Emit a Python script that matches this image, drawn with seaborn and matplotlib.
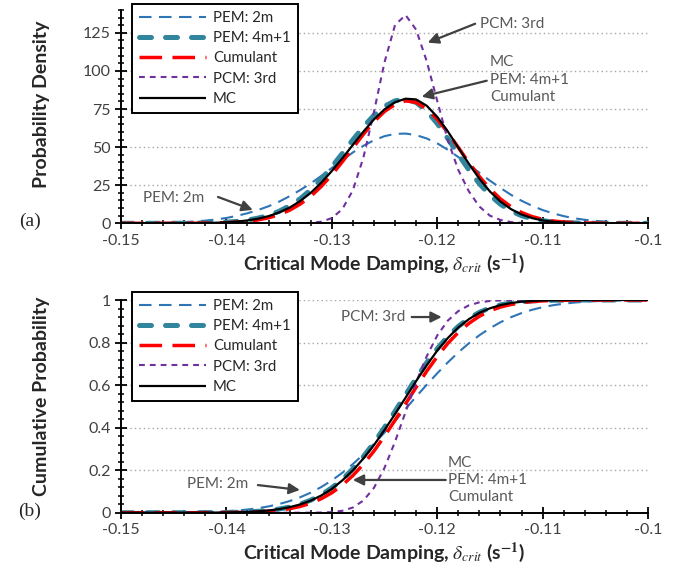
"""
Recreate the PDF / CDF comparison of critical mode damping
estimated with PEM, cumulant, PCM and Monte Carlo methods.
"""

import matplotlib

matplotlib.use("Agg")

import matplotlib.pyplot as plt
import numpy as np
import seaborn as sns
from matplotlib.ticker import FixedLocator, MultipleLocator

# sampling grid of the critical mode damping axis (-0.150 ... -0.100, step 0.001)
DAMPING = np.linspace(-0.150, -0.100, 51)

SERIES_NAMES = ["PEM: 2m", "PEM: 4m+1", "Cumulant", "PCM: 3rd", "MC"]

# probability density
PDF_PEM_2M = [
    0.04, 0.07, 0.12, 0.2, 0.32, 0.5, 0.8, 1.2, 1.75, 2.5,
    3.5, 4.9, 6.6, 8.7, 11.2, 14.2, 17.8, 21.8, 26.2, 31.1,
    36.3, 41.5, 46.5, 50.9, 54.5, 57.2, 58.7, 58.9, 57.9, 55.7,
    52.5, 48.3, 43.5, 38.4, 33.2, 28.0, 23.2, 18.7, 14.8, 11.5,
    8.7, 6.5, 4.7, 3.3, 2.3, 1.6, 1.05, 0.7, 0.44, 0.27,
    0.17,
]
PDF_PEM_4M1 = [
    0.0, 0.0, 0.0, 0.01, 0.01, 0.03, 0.06, 0.12, 0.22, 0.4,
    0.73, 1.25, 2.1, 3.4, 5.2, 7.9, 11.5, 16.1, 22.0, 29.1,
    37.1, 45.9, 54.8, 63.4, 70.9, 76.8, 80.4, 81.5, 79.3, 73.8,
    65.5, 55.7, 45.2, 35.1, 26.0, 18.5, 12.5, 8.1, 5.0, 3.0,
    1.7, 0.9, 0.47, 0.23, 0.1, 0.05, 0.02, 0.0, 0.0, 0.0,
    0.0,
]
PDF_CUMULANT = [
    0.0, 0.0, 0.0, 0.0, 0.0, 0.01, 0.03, 0.06, 0.11, 0.22,
    0.41, 0.75, 1.3, 2.2, 3.6, 5.7, 8.6, 12.6, 17.7, 24.2,
    31.8, 40.4, 49.4, 58.5, 66.7, 73.4, 78.0, 80.4, 79.4, 75.2,
    68.4, 59.6, 49.8, 39.9, 30.7, 22.7, 16.0, 10.9, 7.1, 4.4,
    2.6, 1.5, 0.84, 0.44, 0.22, 0.1, 0.05, 0.02, 0.0, 0.0,
    0.0,
]
PDF_PCM_3RD = [
    0.0, 0.0, 0.0, 0.0, 0.0, 0.0, 0.0, 0.0, 0.0, 0.0,
    0.0, 0.0, 0.0, 0.0, 0.0, 0.0, 0.01, 0.06, 0.28, 1.05,
    3.4, 9.3, 21.7, 43.2, 73.2, 105.7, 130.2, 136.7, 127.1, 106.5,
    80.4, 54.7, 35.0, 21.0, 11.0, 5.0, 2.2, 0.8, 0.3, 0.05,
    0.0, 0.0, 0.0, 0.0, 0.0, 0.0, 0.0, 0.0, 0.0, 0.0,
    0.0,
]
PDF_MC = [
    0.0, 0.0, 0.0, 0.0, 0.01, 0.03, 0.06, 0.12, 0.2, 0.38,
    0.65, 1.1, 1.9, 3.0, 4.7, 7.1, 10.3, 14.6, 20.0, 26.6,
    34.3, 42.7, 51.5, 60.2, 68.2, 74.8, 79.5, 81.8, 81.3, 77.2,
    69.9, 60.4, 49.7, 39.1, 29.3, 20.9, 14.3, 9.3, 5.8, 3.4,
    1.9, 1.0, 0.5, 0.26, 0.12, 0.05, 0.02, 0.0, 0.0, 0.0,
    0.0,
]

# cumulative probability
CDF_PEM_2M = [
    0.00005, 0.00009, 0.00016, 0.0003, 0.00046, 0.00076, 0.00123, 0.00195, 0.00304, 0.00466,
    0.007, 0.0103, 0.015, 0.0212, 0.0297, 0.0407, 0.0548, 0.0726, 0.0944, 0.1208,
    0.1518, 0.1878, 0.2288, 0.2743, 0.3238, 0.3767, 0.432, 0.4886, 0.5455, 0.6015,
    0.6554, 0.7064, 0.7537, 0.7964, 0.8343, 0.8674, 0.8956, 0.9192, 0.9386, 0.9541,
    0.9663, 0.9757, 0.9827, 0.988, 0.9918, 0.9945, 0.9964, 0.9977, 0.9985, 0.9991,
    0.9994,
]
CDF_PEM_4M1 = [
    0.0, 0.0, 0.0, 0.0, 0.0, 0.0, 0.0001, 0.0002, 0.0003, 0.0006,
    0.0012, 0.0022, 0.0039, 0.0065, 0.0108, 0.0172, 0.0267, 0.0403, 0.059, 0.084,
    0.117, 0.157, 0.206, 0.264, 0.329, 0.401, 0.477, 0.555, 0.632, 0.705,
    0.771, 0.829, 0.876, 0.914, 0.942, 0.963, 0.977, 0.986, 0.992, 0.9956,
    0.9977, 0.9988, 0.9995, 0.9998, 1.0, 1.0, 1.0, 1.0, 1.0, 1.0,
    1.0,
]
CDF_CUMULANT = [
    0.0, 0.0, 0.0, 0.0, 0.0, 0.0, 0.0, 0.0001, 0.0002, 0.0003,
    0.0007, 0.0012, 0.0023, 0.0041, 0.007, 0.0117, 0.0189, 0.0295, 0.0447, 0.0658,
    0.0937, 0.130, 0.175, 0.228, 0.290, 0.360, 0.435, 0.512, 0.590, 0.665,
    0.734, 0.796, 0.848, 0.890, 0.924, 0.949, 0.967, 0.979, 0.987, 0.993,
    0.996, 0.9978, 0.9989, 0.9995, 0.9997, 0.9999, 1.0, 1.0, 1.0, 1.0,
    1.0,
]
CDF_PCM_3RD = [
    0.0, 0.0, 0.0, 0.0, 0.0, 0.0, 0.0, 0.0, 0.0, 0.0,
    0.0, 0.0, 0.0, 0.0, 0.0, 0.0, 0.0, 0.0, 0.0002, 0.0008,
    0.0029, 0.0091, 0.0245, 0.0574, 0.117, 0.211, 0.334, 0.474, 0.613, 0.735,
    0.833, 0.903, 0.948, 0.975, 0.989, 0.9955, 0.9983, 0.9994, 0.9998, 1.0,
    1.0, 1.0, 1.0, 1.0, 1.0, 1.0, 1.0, 1.0, 1.0, 1.0,
    1.0,
]
CDF_MC = [
    0.0, 0.0, 0.0, 0.0, 0.0, 0.0, 0.0001, 0.0002, 0.0004, 0.0007,
    0.0013, 0.0022, 0.0039, 0.0065, 0.0106, 0.0169, 0.026, 0.039, 0.057, 0.081,
    0.112, 0.152, 0.199, 0.255, 0.318, 0.389, 0.464, 0.541, 0.619, 0.693,
    0.762, 0.821, 0.871, 0.910, 0.940, 0.961, 0.976, 0.986, 0.992, 0.9957,
    0.9977, 0.9989, 0.9995, 0.9998, 1.0, 1.0, 1.0, 1.0, 1.0, 1.0,
    1.0,
]

X_TICKS = [-0.15, -0.14, -0.13, -0.12, -0.11, -0.10]
X_TICK_LABELS = ["-0.15", "-0.14", "-0.13", "-0.12", "-0.11", "-0.1"]
PDF_TICKS = [0, 25, 50, 75, 100, 125]
CDF_TICKS = [0, 0.2, 0.4, 0.6, 0.8, 1.0]
CDF_TICK_LABELS = ["0", "0.2", "0.4", "0.6", "0.8", "1"]

X_LABEL = r"Critical Mode Damping, $\delta_{crit}$ (s$^{\mathbf{-1}}$)"

# colour, width (pt), dash pattern, cap style
SERIES_STYLES = {
    "PEM: 2m": ("#2E75B6", 1.5, (6.0, 3.6), "butt"),
    "PEM: 4m+1": ("#31859C", 3.6, (2.4, 2.8), "round"),
    "Cumulant": ("#FF0000", 2.5, (6.5, 3.0), "butt"),
    "PCM: 3rd": ("#7030A0", 1.5, (2.8, 2.4), "butt"),
    "MC": ("#000000", 1.6, None, "butt"),
}

NOTE_COLOR = "#595959"
ARROW_COLOR = "#404040"


def draw_curves(ax, series):
    for name, values in zip(SERIES_NAMES, series):
        color, width, dashes, cap = SERIES_STYLES[name]
        sns.lineplot(x=DAMPING, y=values, ax=ax, color=color,
                     linewidth=width, errorbar=None, label=name)
        line = ax.lines[-1]
        if dashes is not None:
            line.set_dashes(dashes)
        line.set_dash_capstyle(cap)
        line.set_solid_capstyle(cap)


def style_axes(ax, y_ticks, y_minor, y_top):
    ax.set_xlim(-0.15, -0.10)
    ax.set_ylim(0, y_top)
    ax.xaxis.set_major_locator(FixedLocator(X_TICKS))
    ax.set_xticklabels(X_TICK_LABELS)
    ax.xaxis.set_minor_locator(MultipleLocator(0.002))
    ax.yaxis.set_major_locator(FixedLocator(y_ticks))
    ax.yaxis.set_minor_locator(MultipleLocator(y_minor))
    for side in ["top", "right"]:
        ax.spines[side].set_visible(False)
    for side in ["left", "bottom"]:
        ax.spines[side].set_linewidth(1.4)
        ax.spines[side].set_color("black")
    ax.tick_params(which="major", direction="inout", length=9, width=1.3,
                   colors="black", labelcolor="#404040", labelsize=11.5, pad=3)
    ax.tick_params(which="minor", direction="inout", length=5, width=1.1,
                   colors="black")
    ax.grid(False)
    ax.yaxis.grid(True, which="major", linestyle=(0, (1, 2.2)),
                  color="#A6A6A6", linewidth=1.0)
    ax.set_axisbelow(True)
    ax.set_xlabel(X_LABEL, fontsize=14, fontweight="bold", labelpad=3)


def add_legend(fig, ax, top):
    handles = ax.get_lines()[:5]
    ax.legend(handles=handles, labels=SERIES_NAMES, loc="upper left",
              bbox_to_anchor=(132 / 691, 1 - top / 573),
              bbox_transform=fig.transFigure, frameon=True, fancybox=False,
              edgecolor="black", framealpha=1, fontsize=10.8,
              handlelength=4.5, handletextpad=0.45, labelspacing=0.42,
              borderpad=0.45, borderaxespad=0)
    ax.get_legend().get_frame().set_linewidth(1.4)


def note(ax, text, xy, **kw):
    ax.text(xy[0], xy[1], text, color=NOTE_COLOR, fontsize=11,
            ha="left", va="center", **kw)


def arrow(ax, tail, tip):
    ax.annotate("", xy=tip, xytext=tail,
                arrowprops=dict(arrowstyle="-|>", color=ARROW_COLOR,
                                lw=1.6, mutation_scale=16,
                                shrinkA=0, shrinkB=0))


def create_damping_figure() -> None:
    sns.set_theme(style="ticks")
    plt.rcParams["font.family"] = ["Lato", "DejaVu Sans"]
    plt.rcParams["mathtext.fontset"] = "stix"
    plt.rcParams["axes.unicode_minus"] = False

    fig = plt.figure(figsize=(6.91, 5.73), dpi=100)
    ax_pdf = fig.add_axes([0.1751, 0.6103, 0.7627, 0.3722])
    ax_cdf = fig.add_axes([0.1751, 0.1052, 0.7627, 0.3712])

    # panel (a): probability density
    draw_curves(ax_pdf, [PDF_PEM_2M, PDF_PEM_4M1, PDF_CUMULANT, PDF_PCM_3RD, PDF_MC])
    style_axes(ax_pdf, PDF_TICKS, 5, 140)
    ax_pdf.set_ylabel("Probability Density", fontsize=14, fontweight="bold")
    ax_pdf.yaxis.set_label_coords(-0.135, 0.56)
    add_legend(fig, ax_pdf, 4)

    note(ax_pdf, "PCM: 3rd", (-0.1159, 131))
    arrow(ax_pdf, (-0.1164, 131), (-0.1209, 118.6))
    note(ax_pdf, "MC\nPEM: 4m+1\nCumulant", (-0.1150, 94.3), linespacing=1.3)
    arrow(ax_pdf, (-0.1153, 93.6), (-0.12147, 83.1))
    note(ax_pdf, "PEM: 2m", (-0.1479, 16.6))
    arrow(ax_pdf, (-0.1408, 17.3), (-0.1375, 8.8))

    # panel (b): cumulative probability
    draw_curves(ax_cdf, [CDF_PEM_2M, CDF_PEM_4M1, CDF_CUMULANT, CDF_PCM_3RD, CDF_MC])
    style_axes(ax_cdf, CDF_TICKS, 0.04, 1.0)
    ax_cdf.set_yticklabels(CDF_TICK_LABELS)
    ax_cdf.set_ylabel("Cumulative Probability", fontsize=14, fontweight="bold")
    ax_cdf.yaxis.set_label_coords(-0.135, 0.545)
    add_legend(fig, ax_cdf, 292)

    note(ax_cdf, "PCM: 3rd", (-0.1291, 0.92))
    arrow(ax_cdf, (-0.12242, 0.92), (-0.11957, 0.92))
    note(ax_cdf, "MC\nPEM: 4m+1\nCumulant", (-0.1190, 0.154), linespacing=1.3)
    arrow(ax_cdf, (-0.11919, 0.154), (-0.12801, 0.154))
    note(ax_cdf, "PEM: 2m", (-0.1437, 0.135))
    arrow(ax_cdf, (-0.13701, 0.130), (-0.13303, 0.107))

    fig.text(30 / 691, 1 - 221 / 573, "(a)", family="Liberation Serif",
             fontsize=14, ha="center", va="center")
    fig.text(30 / 691, 1 - 511 / 573, "(b)", family="Liberation Serif",
             fontsize=14, ha="center", va="center")

    fig.savefig("out.png", dpi=100)


if __name__ == "__main__":
    create_damping_figure()
